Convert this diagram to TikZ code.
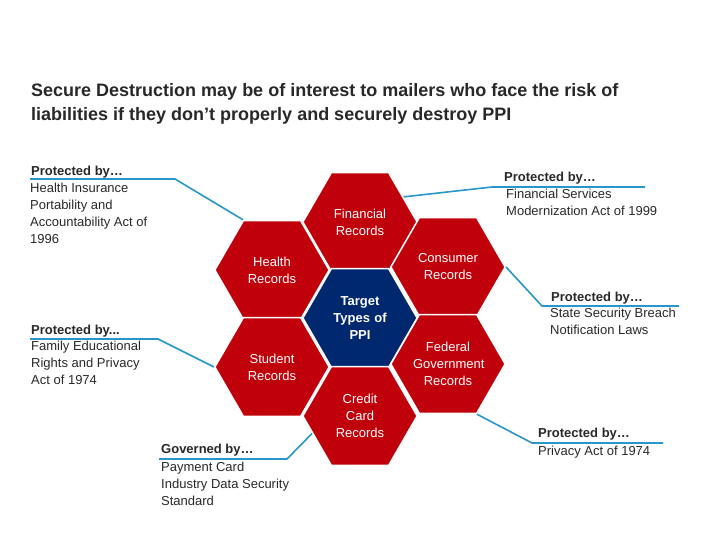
\documentclass[tikz,border=0pt]{standalone}
\usepackage{fontspec}
\setmainfont{Liberation Sans}
\usetikzlibrary{shapes.geometric}
\definecolor{hred}{RGB}{192,0,10}
\definecolor{hblue}{RGB}{0,40,110}
\definecolor{lblue}{RGB}{40,150,200}
\definecolor{txt}{RGB}{40,40,40}
\begin{document}
\begin{tikzpicture}[x=1pt,y=-1pt,
  hexa/.style={regular polygon,regular polygon sides=6,minimum size=109pt,inner sep=0pt,text width=70pt,fill=hred,draw=white,line width=1.5pt,text=white,align=center,font=\fontsize{13}{17}\selectfont},
  hd/.style={anchor=west,font=\bfseries\fontsize{13}{16}\selectfont,text=txt,inner sep=0pt},
  bd/.style={anchor=north west,align=left,font=\fontsize{13}{17}\selectfont,text=txt,inner sep=0pt},
  conn/.style={draw=lblue,line width=1.6pt}]
\useasboundingbox (0,0) rectangle (720,540);
\node[anchor=west,align=left,font=\bfseries\fontsize{18}{24}\selectfont,text=txt,inner sep=0pt] (title) at (31,104) {Secure Destruction may be of interest to mailers who face the risk of\\liabilities if they don’t properly and securely destroy PPI};
\node[hexa] (fin) at (360,222) {Financial\\Records};
\node[hexa] (hea) at (272,270) {Health\\Records};
\node[hexa] (con) at (448,267) {Consumer\\Records};
\node[hexa,fill=hblue,font=\bfseries\fontsize{13}{17}\selectfont] (tgt) at (360,318) {Target\\Types of\\PPI};
\node[hexa] (stu) at (272,367) {Student\\Records};
\node[hexa] (fed) at (448,364) {Federal\\Government\\Records};
\node[hexa] (cre) at (360,416) {Credit\\Card\\Records};
% labels
\node[hd] (h1) at (31,172) {Protected by…};
\node[bd] (b1) at (30,183) {Health Insurance\\Portability and\\Accountability Act of\\1996};
\coordinate (l1a) at (30,179); \coordinate (l1b) at (175,179);
\draw[conn] (l1a) -- (l1b) -- (hea.120);
\node[hd] (h2) at (504,178) {Protected by…};
\node[bd] (b2) at (506,189) {Financial Services\\Modernization Act of 1999};
\coordinate (l2a) at (645,187); \coordinate (l2b) at (492,187);
\draw[conn] (l2a) -- (l2b) -- (fin.30);
\node[hd] (h3) at (551,298) {Protected by…};
\node[bd] (b3) at (550,308) {State Security Breach\\Notification Laws};
\coordinate (l3a) at (679,306); \coordinate (l3b) at (542,306);
\draw[conn] (l3a) -- (l3b) -- (con.0);
\node[hd] (h4) at (31,331) {Protected by...};
\node[bd] (b4) at (31,341) {Family Educational\\Rights and Privacy\\Act of 1974};
\coordinate (l4a) at (30,339); \coordinate (l4b) at (158,339);
\draw[conn] (l4a) -- (l4b) -- (stu.180);
\node[hd] (h5) at (538,434) {Protected by…};
\node[bd] (b5) at (538,446) {Privacy Act of 1974};
\coordinate (l5a) at (663,443); \coordinate (l5b) at (532,443);
\draw[conn] (l5a) -- (l5b) -- (fed.-60);
\node[hd] (h6) at (161,450) {Governed by…};
\node[bd] (b6) at (161,462) {Payment Card\\Industry Data Security\\Standard};
\coordinate (l6a) at (159,459); \coordinate (l6b) at (287,459);
\draw[conn] (l6a) -- (l6b) -- (cre.200);
\end{tikzpicture}
\end{document}
